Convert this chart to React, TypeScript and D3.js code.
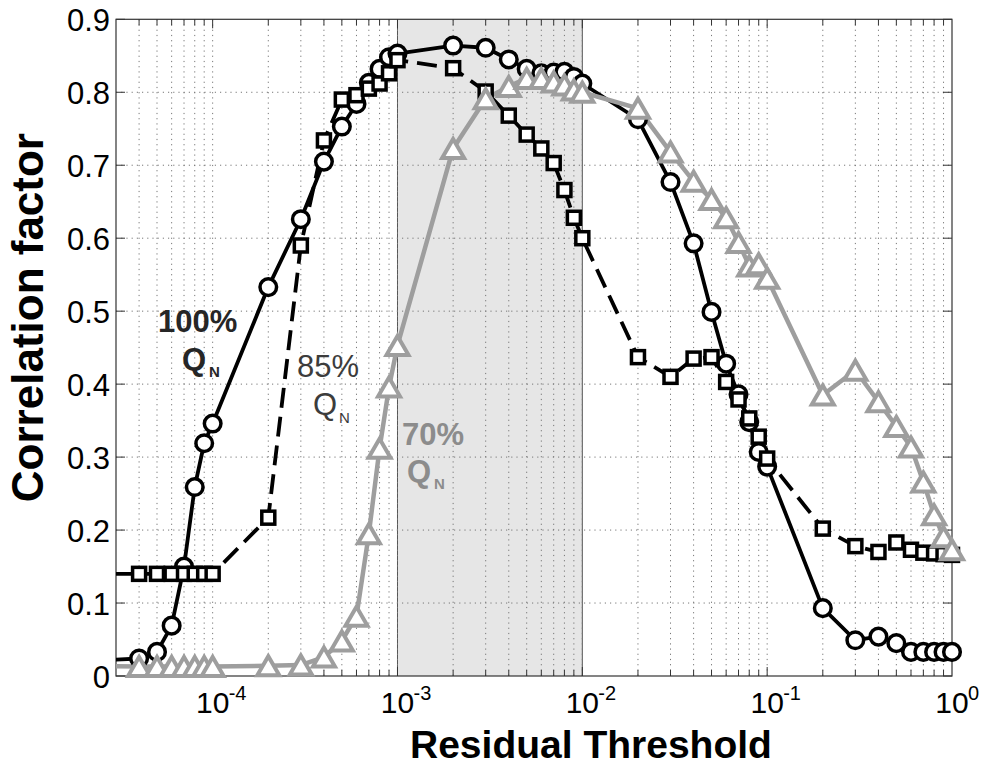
import React from "react";
import * as d3 from "d3";

// ---------- data ----------
const xValues = [
  2e-5, 4e-5, 5e-5, 6e-5, 7e-5, 8e-5, 9e-5,
  1e-4, 2e-4, 3e-4, 4e-4, 5e-4, 6e-4, 7e-4, 8e-4, 9e-4,
  1e-3, 2e-3, 3e-3, 4e-3, 5e-3, 6e-3, 7e-3, 8e-3, 9e-3,
  1e-2, 2e-2, 3e-2, 4e-2, 5e-2, 6e-2, 7e-2, 8e-2, 9e-2,
  0.1, 0.2, 0.3, 0.4, 0.5, 0.6, 0.7, 0.8, 0.9, 1,
];

const q100 = [
  0.02, 0.024, 0.033, 0.069, 0.15, 0.259, 0.319,
  0.346, 0.533, 0.626, 0.705, 0.753, 0.784, 0.813, 0.832, 0.848,
  0.853, 0.864, 0.861, 0.845, 0.832, 0.826, 0.827, 0.828, 0.821,
  0.812, 0.763, 0.677, 0.593, 0.499, 0.428, 0.386, 0.348, 0.307,
  0.287, 0.093, 0.049, 0.054, 0.045, 0.033, 0.033, 0.033, 0.033, 0.033,
];

const q85 = [
  0.14, 0.14, 0.14, 0.14, 0.14, 0.14, 0.14,
  0.14, 0.217, 0.59, 0.734, 0.79, 0.796, 0.805, 0.812, 0.826,
  0.844, 0.833, 0.801, 0.768, 0.742, 0.723, 0.703, 0.666, 0.628,
  0.6, 0.437, 0.41, 0.435, 0.437, 0.403, 0.379, 0.353, 0.328,
  0.298, 0.202, 0.178, 0.17, 0.183, 0.173, 0.169, 0.168, 0.167, 0.166,
];

const q70 = [
  0.014, 0.013, 0.013, 0.013, 0.013, 0.013, 0.013,
  0.013, 0.014, 0.015, 0.026, 0.048, 0.082, 0.195, 0.312, 0.396,
  0.453, 0.723, 0.791, 0.808, 0.819, 0.819, 0.814, 0.81, 0.803,
  0.8, 0.778, 0.718, 0.678, 0.653, 0.628, 0.594, 0.562, 0.565,
  0.545, 0.385, 0.419, 0.376, 0.342, 0.314, 0.266, 0.221, 0.191, 0.173,
];

const yTicks = [0, 0.1, 0.2, 0.3, 0.4, 0.5, 0.6, 0.7, 0.8, 0.9];
const yTickLabels = ["0", "0.1", "0.2", "0.3", "0.4", "0.5", "0.6", "0.7", "0.8", "0.9"];
const xDecades = [1e-4, 1e-3, 1e-2, 1e-1, 1];
const xDecadeExponents = ["-4", "-3", "-2", "-1", "0"];
const shadedRange = [1e-3, 1e-2];

const xLabel = "Residual Threshold";
const yLabel = "Correlation factor";

// ---------- layout ----------
const W = 992;
const H = 771;
const L = 116;
const R = 952;
const T = 19.3;
const B = 676;
const FONT = "'Liberation Sans', Arial, Helvetica, sans-serif";
const GRAY = "#9e9e9e";

export default function App() {
  const x = d3.scaleLog().domain([3e-5, 1]).range([L, R]);
  const y = d3.scaleLinear().domain([0, 0.9]).range([B, T]);

  const [dMin, dMax] = x.domain();
  const minorTicks: number[] = [];
  for (let e = -5; e <= 0; e++) {
    for (let k = 1; k <= 9; k++) {
      const v = k * Math.pow(10, e);
      if (v > dMin * 1.0001 && v < dMax * 0.9999) minorTicks.push(v);
    }
  }
  const isDecade = (v: number) => Math.abs(Math.log10(v) - Math.round(Math.log10(v))) < 1e-6;

  const line = d3
    .line<number>()
    .x((_, i) => x(xValues[i]))
    .y((d) => y(d));

  const inDomain = (i: number) => xValues[i] >= dMin * 0.999 && xValues[i] <= dMax * 1.001;

  const tri = (cx: number, cy: number) => {
    const a = 11;
    const h = 19;
    return `M${cx},${cy - h / 2}L${cx + a},${cy + h / 2}L${cx - a},${cy + h / 2}Z`;
  };

  return (
    <svg
      width={W}
      height={H}
      style={{ position: "absolute", left: 0, top: 0, background: "#fff" }}
      fontFamily={FONT}
    >
      <defs>
        <clipPath id="plotclip">
          <rect x={L} y={T} width={R - L} height={B - T} />
        </clipPath>
      </defs>
      <rect x={0} y={0} width={W} height={H} fill="#fff" />

      {/* shaded region */}
      <rect
        x={x(shadedRange[0])}
        y={T}
        width={x(shadedRange[1]) - x(shadedRange[0])}
        height={B - T}
        fill="#e6e6e6"
      />
      <line x1={x(shadedRange[0])} x2={x(shadedRange[0])} y1={T} y2={B} stroke="#555" strokeWidth={1} />
      <line x1={x(shadedRange[1])} x2={x(shadedRange[1])} y1={T} y2={B} stroke="#555" strokeWidth={1} />

      {/* grid */}
      <g stroke="#777" strokeWidth={1} strokeDasharray="1.2 4">
        {minorTicks.map((v, i) => (
          <line key={"gx" + i} x1={x(v)} x2={x(v)} y1={T} y2={B} />
        ))}
        {yTicks
          .filter((v) => v > 0 && v < 0.9)
          .map((v, i) => (
            <line key={"gy" + i} x1={L} x2={R} y1={y(v)} y2={y(v)} />
          ))}
      </g>

      {/* ticks */}
      <g stroke="#333" strokeWidth={1}>
        {minorTicks.map((v, i) => {
          const len = isDecade(v) ? 9 : 6;
          return (
            <g key={"tx" + i}>
              <line x1={x(v)} x2={x(v)} y1={B} y2={B - len} />
              <line x1={x(v)} x2={x(v)} y1={T} y2={T + len} />
            </g>
          );
        })}
        {yTicks.map((v, i) => (
          <g key={"ty" + i}>
            <line x1={L} x2={L + 9} y1={y(v)} y2={y(v)} />
            <line x1={R} x2={R - 9} y1={y(v)} y2={y(v)} />
          </g>
        ))}
      </g>

      {/* axes box */}
      <rect x={L} y={T} width={R - L} height={B - T} fill="none" stroke="#333" strokeWidth={1.2} />

      {/* series lines */}
      <g clipPath="url(#plotclip)" fill="none" strokeLinejoin="round">
        <path d={line(q100) || ""} stroke="#000" strokeWidth={3.8} />
        <path d={line(q85) || ""} stroke="#000" strokeWidth={3.8} strokeDasharray="20 9" />
        <path d={line(q70) || ""} stroke={GRAY} strokeWidth={4.5} />
      </g>

      {/* markers */}
      <g>
        {q100.map((v, i) =>
          inDomain(i) ? (
            <circle key={"c" + i} cx={x(xValues[i])} cy={y(v)} r={8.3} fill="#fff" stroke="#000" strokeWidth={3.5} />
          ) : null
        )}
        {q85.map((v, i) =>
          inDomain(i) ? (
            <rect
              key={"s" + i}
              x={x(xValues[i]) - 6.5}
              y={y(v) - 6.5}
              width={13}
              height={13}
              fill="#fff"
              stroke="#000"
              strokeWidth={3.5}
            />
          ) : null
        )}
        {q70.map((v, i) =>
          inDomain(i) ? (
            <path key={"t" + i} d={tri(x(xValues[i]), y(v))} fill="#fff" stroke={GRAY} strokeWidth={4} strokeLinejoin="miter" />
          ) : null
        )}
      </g>

      {/* y tick labels */}
      <g fontSize={31} fill="#000" textAnchor="end">
        {yTicks.map((v, i) => (
          <text key={"yl" + i} x={L - 6} y={y(v) + 12}>
            {yTickLabels[i]}
          </text>
        ))}
      </g>

      {/* x tick labels */}
      <g fill="#000">
        {xDecades.map((v, i) => (
          <g key={"xl" + i}>
            <text x={x(v)} y={713} fontSize={30} textAnchor="middle">
              10
            </text>
            <text x={x(v) + 16} y={700} fontSize={20} textAnchor="start">
              {xDecadeExponents[i]}
            </text>
          </g>
        ))}
      </g>

      {/* axis labels */}
      <text x={410} y={758} fontSize={39} fontWeight="bold" fill="#000">
        {xLabel}
      </text>
      <text
        transform={`translate(43, 133) rotate(-90)`}
        fontSize={44}
        fontWeight="bold"
        textAnchor="end"
        fill="#000"
      >
        {yLabel}
      </text>

      {/* annotations */}
      <g fontSize={31}>
        <text x={158} y={332} fontWeight="bold" fill="#262626">100%</text>
        <text x={182} y={370} fontWeight="bold" fill="#262626">Q</text>
        <text x={209} y={377} fontWeight="bold" fontSize={15} fill="#262626">N</text>

        <text x={297} y={377} fill="#3c3c3c">85%</text>
        <text x={313} y={415} fill="#3c3c3c">Q</text>
        <text x={339} y={423} fontSize={15} fill="#3c3c3c">N</text>

        <text x={402} y={445} fontWeight="bold" fill="#8c8c8c">70%</text>
        <text x={407} y={482} fontWeight="bold" fill="#8c8c8c">Q</text>
        <text x={434} y={489} fontWeight="bold" fontSize={15} fill="#8c8c8c">N</text>
      </g>
    </svg>
  );
}
